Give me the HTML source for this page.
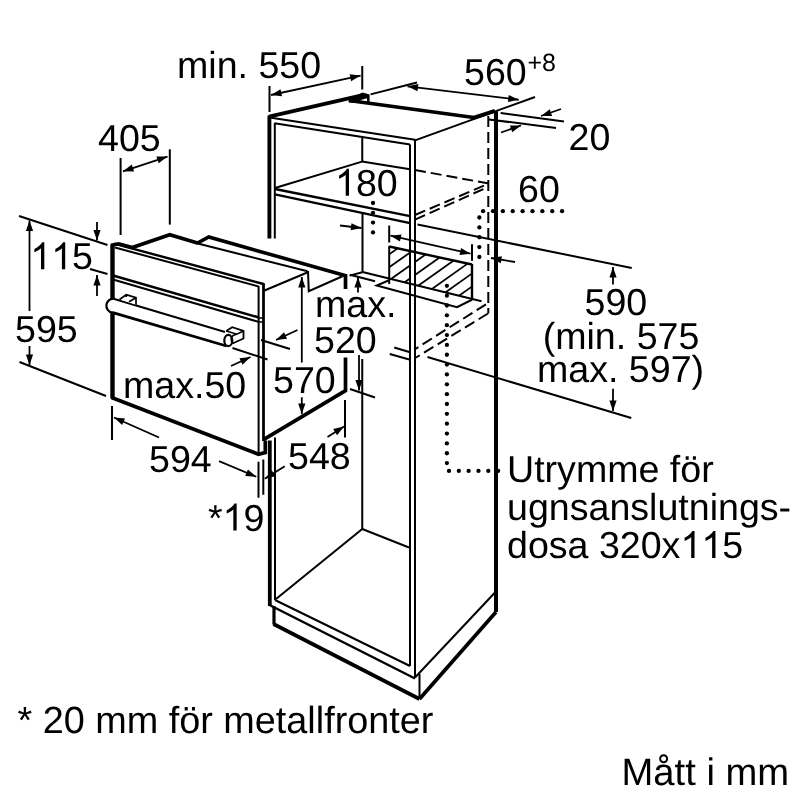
<!DOCTYPE html>
<html><head><meta charset="utf-8"><title>Diagram</title>
<style>
html,body{margin:0;padding:0;background:#fff;}
svg{display:block;filter:grayscale(1);}
svg text{font-family:"Liberation Sans",sans-serif;fill:#000;stroke:none;text-rendering:geometricPrecision;font-kerning:none;white-space:pre;}
</style></head><body>
<svg width="800" height="800" viewBox="0 0 800 800" stroke="#000" fill="none" stroke-linecap="butt">
<rect x="0" y="0" width="800" height="800" fill="#fff" stroke="none"/>
<line x1="269.4" y1="115.6" x2="269.4" y2="238.5" stroke-width="3.9" />
<line x1="274.8" y1="123" x2="274.8" y2="238.5" stroke-width="2.0" />
<line x1="269.8" y1="440.5" x2="269.8" y2="606" stroke-width="3.8" />
<line x1="275" y1="437.5" x2="275" y2="600" stroke-width="2.0" />
<line x1="269" y1="116.6" x2="364" y2="94.9" stroke-width="3.7" />
<polyline points="349,100.5 473.75,117.5" stroke-width="3.7" fill="none" />
<line x1="472.5" y1="118.2" x2="495" y2="110.8" stroke-width="4" />
<path d="M348.75,99.6 L362.5,92.6 L369.6,94.4 L369.6,103.4 L348.75,102.6 Z M358.75,100.6 L367,98.2 L367,101.4 Z" fill="#000" fill-rule="evenodd" stroke="none"/>
<line x1="269.5" y1="117.5" x2="415" y2="139.8" stroke-width="2.0" />
<line x1="274.5" y1="123.3" x2="410" y2="144.4" stroke-width="2.0" />
<line x1="415" y1="140.4" x2="535" y2="97" stroke-width="2.0" />
<line x1="410" y1="144.4" x2="410" y2="666" stroke-width="2.0" />
<line x1="415" y1="139.4" x2="415" y2="678" stroke-width="2.0" />
<line x1="496" y1="111" x2="496" y2="612" stroke-width="4" />
<line x1="362.25" y1="138" x2="362.25" y2="161" stroke-width="2.0" />
<line x1="362" y1="161.6" x2="275" y2="188" stroke-width="2.0" />
<line x1="362" y1="161.6" x2="410" y2="169.2" stroke-width="2.0" />
<line x1="275" y1="189" x2="410" y2="216.2" stroke-width="2.3" />
<line x1="275" y1="194.4" x2="410" y2="223.2" stroke-width="2.3" />
<line x1="362.5" y1="212" x2="362.5" y2="272.5" stroke-width="2.0" />
<line x1="362.5" y1="272" x2="481.5" y2="301.3" stroke-width="2.0" />
<line x1="415" y1="170" x2="488.75" y2="183.5" stroke-width="2.0" stroke-dasharray="11 5"/>
<line x1="415" y1="215" x2="485.5" y2="185" stroke-width="2.0" stroke-dasharray="11 5"/>
<line x1="415" y1="219.7" x2="488" y2="187" stroke-width="2.0" stroke-dasharray="11 5"/>
<line x1="488.3" y1="116" x2="488.3" y2="313.5" stroke-width="2.0" stroke-dasharray="11 5"/>
<line x1="486" y1="304.3" x2="415.25" y2="349" stroke-width="2.0" stroke-dasharray="11 5"/>
<line x1="488" y1="313.5" x2="415.25" y2="358" stroke-width="2.0" stroke-dasharray="11 5"/>
<line x1="362.25" y1="359" x2="362.25" y2="529" stroke-width="2.0" />
<line x1="362.25" y1="529" x2="409" y2="547.5" stroke-width="2.0" />
<line x1="362.25" y1="529" x2="276" y2="599" stroke-width="2.0" />
<line x1="275" y1="600" x2="410" y2="666" stroke-width="2.0" />
<line x1="269.5" y1="605" x2="415" y2="678.5" stroke-width="2.5" />
<line x1="415" y1="677.5" x2="495" y2="592.5" stroke-width="2.0" />
<line x1="274" y1="606" x2="274" y2="624.5" stroke-width="3.2" />
<line x1="273.5" y1="624" x2="419.5" y2="699" stroke-width="3.7" />
<line x1="419.5" y1="674" x2="419.5" y2="699" stroke-width="2.0" />
<line x1="419.5" y1="699" x2="496" y2="612" stroke-width="3.7" />
<line x1="112.5" y1="244.5" x2="112.5" y2="398.5" stroke-width="4.4" />
<polyline points="111.5,397.5 258.5,454.3 265.3,452.5 265.3,440.5" stroke-width="3.7" fill="none" />
<polyline points="263.5,439.6 345.5,390.6 345.5,357.5" stroke-width="3.7" fill="none" />
<line x1="114" y1="243.6" x2="263.5" y2="284" stroke-width="2.4" />
<line x1="115" y1="247.5" x2="258.5" y2="286.5" stroke-width="2.0" />
<line x1="258.6" y1="286" x2="258.6" y2="453" stroke-width="2.0" />
<line x1="263.5" y1="283.2" x2="263.5" y2="441" stroke-width="2.8" />
<line x1="258.6" y1="318" x2="263.5" y2="318" stroke-width="1.5" />
<line x1="258.6" y1="322" x2="263.5" y2="322" stroke-width="1.5" />
<line x1="113" y1="275.5" x2="259" y2="317.5" stroke-width="2.4" />
<line x1="113" y1="279.5" x2="259" y2="322" stroke-width="2.0" />
<polyline points="111,245.25 118.75,243.75 132.25,247.5 169.75,234.75 197.5,243 208.75,237 345,275.5" stroke-width="3.6" fill="none" />
<line x1="345.5" y1="274" x2="345.5" y2="289" stroke-width="3.7" />
<line x1="198.75" y1="243.75" x2="307.5" y2="271.25" stroke-width="2.0" />
<line x1="264.5" y1="290.5" x2="307.25" y2="272.5" stroke-width="2.0" />
<polyline points="308,271 308.75,291.25 342.5,276.25" stroke-width="2.0" fill="none" />
<line x1="350" y1="274.8" x2="375" y2="281.2" stroke-width="2.0" />
<line x1="362.4" y1="272.2" x2="349.5" y2="275.6" stroke-width="2.0" />
<path d="M113.5,299 L225,332 L226.5,346 L112,312.5 A6.3,6.7 0 0 1 113.5,299 Z" fill="#fff" stroke="none"/>
<path d="M112,312.5 A6.3,6.7 0 0 1 113.5,299" stroke-width="2.2" fill="none"/>
<line x1="113.5" y1="298.8" x2="225" y2="332" stroke-width="2.0" />
<line x1="112" y1="312.3" x2="226.5" y2="346" stroke-width="2.8" />
<path d="M119.5,299.5 L126.25,294.75 L136,297.75 L136,304.8 M126.25,294.75 L126.25,297 M129,301.8 L136,297.75" stroke-width="1.7" fill="#fff"/>
<path d="M226.25,331 L232.25,327.25 L243.5,331 L243.5,338.5 L232.5,343.5" stroke-width="1.8" fill="#fff"/>
<path d="M243.5,331 L236.75,334.2 L226.25,331" stroke-width="1.6" fill="none"/>
<ellipse cx="228.3" cy="340.5" rx="4" ry="5.6" fill="#fff" stroke-width="2.2"/>
<path d="M236.75,334.2 C231,335 230,339 232.5,343.5" stroke-width="1.6" fill="none"/>
<line x1="269.5" y1="86" x2="269.5" y2="112" stroke-width="2.0" />
<line x1="362.25" y1="66" x2="362.25" y2="89.5" stroke-width="2.0" />
<line x1="271" y1="95" x2="360.6" y2="75.6" stroke-width="1.8" />
<polygon points="360.60,75.60 351.10,81.34 349.58,74.30" fill="#000" stroke="none"/>
<polygon points="271.00,95.00 280.50,89.26 282.02,96.30" fill="#000" stroke="none"/>
<text x="177" y="77.5" font-size="37.6" >min. 550</text>
<line x1="370.6" y1="94.4" x2="417" y2="82.5" stroke-width="2.0" />
<line x1="407.5" y1="86.3" x2="518.75" y2="99.75" stroke-width="1.8" />
<polygon points="518.75,99.75 507.89,102.06 508.76,94.92" fill="#000" stroke="none"/>
<polygon points="407.50,86.30 418.36,83.99 417.49,91.13" fill="#000" stroke="none"/>
<text x="464" y="85" font-size="37.6" >560</text>
<text x="527.5" y="71.3" font-size="25" >+8</text>
<line x1="500.6" y1="113" x2="564" y2="121.5" stroke-width="2.0" />
<line x1="488.75" y1="119.4" x2="556" y2="128" stroke-width="2.0" />
<line x1="561" y1="109" x2="541" y2="116" stroke-width="1.8" />
<polygon points="541.00,116.00 549.72,109.13 552.10,115.93" fill="#000" stroke="none"/>
<line x1="501" y1="132.5" x2="521" y2="125.5" stroke-width="1.8" />
<polygon points="521.00,125.50 512.28,132.37 509.90,125.57" fill="#000" stroke="none"/>
<text x="568.5" y="149.6" font-size="37.6" >20</text>
<line x1="120.6" y1="158" x2="120.6" y2="235" stroke-width="2.0" />
<line x1="169.8" y1="149.3" x2="169.8" y2="224.6" stroke-width="2.0" />
<line x1="123" y1="171.3" x2="167.5" y2="156.6" stroke-width="1.8" />
<polygon points="167.50,156.60 158.66,163.31 156.40,156.48" fill="#000" stroke="none"/>
<polygon points="123.00,171.30 131.84,164.59 134.10,171.42" fill="#000" stroke="none"/>
<text x="98" y="151" font-size="37.6" >405</text>
<line x1="19" y1="216" x2="107.5" y2="245" stroke-width="2.0" />
<line x1="90" y1="269" x2="107.5" y2="274" stroke-width="2.0" />
<line x1="97" y1="222" x2="97" y2="240.5" stroke-width="1.8" />
<polygon points="97.00,240.50 93.40,230.00 100.60,230.00" fill="#000" stroke="none"/>
<line x1="97" y1="296" x2="97" y2="275" stroke-width="1.8" />
<polygon points="97.00,275.00 100.60,285.50 93.40,285.50" fill="#000" stroke="none"/>
<path d="M763 0H583V1147Q518 1085 412.5 1023T223 930V1104Q374 1175 487 1276T647 1472H763Z" transform="translate(30.30,269.3) scale(0.01836,-0.01836)" fill="#000" stroke="none"/>
<path d="M763 0H583V1147Q518 1085 412.5 1023T223 930V1104Q374 1175 487 1276T647 1472H763Z" transform="translate(51.21,269.3) scale(0.01836,-0.01836)" fill="#000" stroke="none"/>
<text x="72.12" y="269.3" font-size="37.6"  xml:space="preserve">5</text>
<line x1="29.5" y1="311" x2="29.5" y2="220.5" stroke-width="1.8" />
<polygon points="29.50,220.50 33.10,231.00 25.90,231.00" fill="#000" stroke="none"/>
<line x1="29.5" y1="346" x2="29.5" y2="365" stroke-width="1.8" />
<polygon points="29.50,365.00 25.90,354.50 33.10,354.50" fill="#000" stroke="none"/>
<line x1="19.5" y1="362" x2="106" y2="396" stroke-width="2.0" />
<text x="15" y="342" font-size="37.6" >595</text>
<line x1="112" y1="406" x2="112" y2="440" stroke-width="2.0" />
<line x1="159" y1="437.5" x2="114" y2="417.5" stroke-width="1.8" />
<polygon points="114.00,417.50 125.06,418.47 122.13,425.05" fill="#000" stroke="none"/>
<line x1="219" y1="461.2" x2="256.25" y2="476.75" stroke-width="1.8" />
<polygon points="256.25,476.75 245.17,476.03 247.95,469.38" fill="#000" stroke="none"/>
<text x="149" y="472" font-size="37.6" >594</text>
<line x1="258.5" y1="461.75" x2="258.5" y2="497.75" stroke-width="2.0" />
<line x1="263.3" y1="459.5" x2="263.3" y2="494.75" stroke-width="2.0" />
<text x="208.00" y="530.5" font-size="37.6"  xml:space="preserve">*</text>
<path d="M763 0H583V1147Q518 1085 412.5 1023T223 930V1104Q374 1175 487 1276T647 1472H763Z" transform="translate(222.63,530.5) scale(0.01836,-0.01836)" fill="#000" stroke="none"/>
<text x="243.54" y="530.5" font-size="37.6"  xml:space="preserve">9</text>
<line x1="284.75" y1="466.25" x2="264.8" y2="478.8" stroke-width="1.8" />
<polygon points="264.80,478.80 271.77,470.16 275.60,476.26" fill="#000" stroke="none"/>
<line x1="345" y1="400" x2="345" y2="437.5" stroke-width="2.0" />
<line x1="327.5" y1="437" x2="344" y2="426.5" stroke-width="1.8" />
<polygon points="344.00,426.50 337.07,435.17 333.21,429.10" fill="#000" stroke="none"/>
<text x="288" y="469" font-size="37.6" >548</text>
<line x1="301.8" y1="362.5" x2="301.8" y2="277" stroke-width="1.8" />
<polygon points="301.80,277.00 305.40,287.50 298.20,287.50" fill="#000" stroke="none"/>
<line x1="301.8" y1="397.25" x2="301.8" y2="414" stroke-width="1.8" />
<polygon points="301.80,414.00 298.20,403.50 305.40,403.50" fill="#000" stroke="none"/>
<text x="273" y="392.8" font-size="37.6" >570</text>
<line x1="358" y1="292.5" x2="358" y2="277" stroke-width="1.8" />
<polygon points="358.00,277.00 361.60,287.50 354.40,287.50" fill="#000" stroke="none"/>
<line x1="359" y1="355" x2="359" y2="390.5" stroke-width="1.8" />
<polygon points="359.00,390.50 355.40,380.00 362.60,380.00" fill="#000" stroke="none"/>
<line x1="350" y1="389" x2="375" y2="397.5" stroke-width="2.0" />
<text x="315" y="317" font-size="37.6" >max.</text>
<text x="314" y="352.5" font-size="37.6" >520</text>
<line x1="232.5" y1="348" x2="267.5" y2="359.5" stroke-width="2.0" />
<line x1="231" y1="366" x2="250.5" y2="357" stroke-width="1.8" />
<polygon points="250.50,357.00 242.48,364.67 239.46,358.13" fill="#000" stroke="none"/>
<line x1="261" y1="340" x2="290" y2="349" stroke-width="2.0" />
<line x1="297.5" y1="330" x2="276" y2="340" stroke-width="1.8" />
<polygon points="276.00,340.00 284.00,332.31 287.04,338.84" fill="#000" stroke="none"/>
<text x="123" y="398" font-size="37.6" >max.50</text>
<line x1="340" y1="225.5" x2="361.5" y2="228" stroke-width="1.8" />
<polygon points="361.50,228.00 350.65,230.36 351.49,223.21" fill="#000" stroke="none"/>
<line x1="389.2" y1="225.6" x2="389.2" y2="242.5" stroke-width="2.0" />
<line x1="389.2" y1="246" x2="389.2" y2="284" stroke-width="2.0" />
<line x1="470.5" y1="253.7" x2="390.5" y2="235.7" stroke-width="1.8" />
<polygon points="390.50,235.70 401.53,234.49 399.95,241.52" fill="#000" stroke="none"/>
<polygon points="470.50,253.70 459.47,254.91 461.05,247.88" fill="#000" stroke="none"/>
<line x1="472" y1="244.25" x2="472" y2="260.75" stroke-width="2.0" />
<path d="M763 0H583V1147Q518 1085 412.5 1023T223 930V1104Q374 1175 487 1276T647 1472H763Z" transform="translate(335.00,195.8) scale(0.01836,-0.01836)" fill="#000" stroke="none"/>
<text x="355.91" y="195.8" font-size="37.6"  xml:space="preserve">80</text>
<circle cx="373.00" cy="203.00" r="2.15" fill="#000" stroke="none"/>
<circle cx="373.00" cy="212.80" r="2.15" fill="#000" stroke="none"/>
<circle cx="373.00" cy="222.60" r="2.15" fill="#000" stroke="none"/>
<circle cx="373.00" cy="232.40" r="2.15" fill="#000" stroke="none"/>
<defs><clipPath id="hb"><path d="M389.2,246.5 L409,250.8 L409,283.3 L389.2,278.3 Z M415.8,252.3 L472,264.5 L472,299 L415.8,285 Z"/></clipPath></defs>
<g clip-path="url(#hb)" stroke-width="1.8"><line x1="263.5" y1="317.6" x2="383.5" y2="232.4"/><line x1="281.8" y1="317.6" x2="401.8" y2="232.4"/><line x1="300.1" y1="317.6" x2="420.1" y2="232.4"/><line x1="318.4" y1="317.6" x2="438.4" y2="232.4"/><line x1="336.7" y1="317.6" x2="456.7" y2="232.4"/><line x1="355.0" y1="317.6" x2="475.0" y2="232.4"/><line x1="373.3" y1="317.6" x2="493.3" y2="232.4"/><line x1="391.6" y1="317.6" x2="511.6" y2="232.4"/><line x1="409.9" y1="317.6" x2="529.9" y2="232.4"/><line x1="428.2" y1="317.6" x2="548.2" y2="232.4"/><line x1="446.5" y1="317.6" x2="566.5" y2="232.4"/><line x1="464.8" y1="317.6" x2="584.8" y2="232.4"/><line x1="483.1" y1="317.6" x2="603.1" y2="232.4"/></g>
<line x1="389.2" y1="246.5" x2="472" y2="264.5" stroke-width="2.4" />
<line x1="472" y1="264" x2="472" y2="299.5" stroke-width="2.4" />
<polyline points="389,280.25 376.75,285.5 457,307.25 472,299.75" stroke-width="2.0" fill="none" />
<circle cx="483.10" cy="211.15" r="2.15" fill="#000" stroke="none"/>
<circle cx="492.98" cy="211.15" r="2.15" fill="#000" stroke="none"/>
<circle cx="502.85" cy="211.15" r="2.15" fill="#000" stroke="none"/>
<circle cx="512.73" cy="211.15" r="2.15" fill="#000" stroke="none"/>
<circle cx="522.60" cy="211.15" r="2.15" fill="#000" stroke="none"/>
<circle cx="532.48" cy="211.15" r="2.15" fill="#000" stroke="none"/>
<circle cx="542.35" cy="211.15" r="2.15" fill="#000" stroke="none"/>
<circle cx="552.23" cy="211.15" r="2.15" fill="#000" stroke="none"/>
<circle cx="562.10" cy="211.15" r="2.15" fill="#000" stroke="none"/>
<circle cx="479.35" cy="217.50" r="2.15" fill="#000" stroke="none"/>
<circle cx="479.35" cy="227.38" r="2.15" fill="#000" stroke="none"/>
<circle cx="479.35" cy="237.25" r="2.15" fill="#000" stroke="none"/>
<circle cx="479.35" cy="247.12" r="2.15" fill="#000" stroke="none"/>
<circle cx="479.35" cy="257.00" r="2.15" fill="#000" stroke="none"/>
<line x1="515" y1="262" x2="491" y2="258" stroke-width="1.8" />
<polygon points="491.00,258.00 501.95,256.18 500.77,263.28" fill="#000" stroke="none"/>
<text x="518" y="201.5" font-size="37.6" >60</text>
<line x1="417.5" y1="224.5" x2="631.75" y2="268" stroke-width="2.0" />
<line x1="427.5" y1="357" x2="631.25" y2="418" stroke-width="2.0" />
<line x1="613" y1="284.5" x2="613" y2="267" stroke-width="1.8" />
<polygon points="613.00,267.00 616.60,277.50 609.40,277.50" fill="#000" stroke="none"/>
<line x1="613" y1="388.75" x2="613" y2="411" stroke-width="1.8" />
<polygon points="613.00,411.00 609.40,400.50 616.60,400.50" fill="#000" stroke="none"/>
<text x="584.5" y="315" font-size="37.6" >590</text>
<text x="542.7" y="348.75" font-size="37.6" >(min. 575</text>
<text x="537" y="381.5" font-size="37.6" >max. 597)</text>
<line x1="394.25" y1="347.5" x2="409.25" y2="352" stroke-width="2.0" />
<line x1="389.75" y1="354" x2="409.25" y2="359.5" stroke-width="2.0" />
<circle cx="446.90" cy="285.80" r="2.15" fill="#000" stroke="none"/>
<circle cx="446.90" cy="295.65" r="2.15" fill="#000" stroke="none"/>
<circle cx="446.90" cy="305.50" r="2.15" fill="#000" stroke="none"/>
<circle cx="446.90" cy="315.35" r="2.15" fill="#000" stroke="none"/>
<circle cx="446.90" cy="325.20" r="2.15" fill="#000" stroke="none"/>
<circle cx="446.90" cy="335.05" r="2.15" fill="#000" stroke="none"/>
<circle cx="446.90" cy="344.90" r="2.15" fill="#000" stroke="none"/>
<circle cx="446.90" cy="354.75" r="2.15" fill="#000" stroke="none"/>
<circle cx="446.90" cy="364.60" r="2.15" fill="#000" stroke="none"/>
<circle cx="446.90" cy="374.45" r="2.15" fill="#000" stroke="none"/>
<circle cx="446.90" cy="384.30" r="2.15" fill="#000" stroke="none"/>
<circle cx="446.90" cy="394.15" r="2.15" fill="#000" stroke="none"/>
<circle cx="446.90" cy="404.00" r="2.15" fill="#000" stroke="none"/>
<circle cx="446.90" cy="413.85" r="2.15" fill="#000" stroke="none"/>
<circle cx="446.90" cy="423.70" r="2.15" fill="#000" stroke="none"/>
<circle cx="446.90" cy="433.55" r="2.15" fill="#000" stroke="none"/>
<circle cx="446.90" cy="443.40" r="2.15" fill="#000" stroke="none"/>
<circle cx="446.90" cy="453.25" r="2.15" fill="#000" stroke="none"/>
<circle cx="446.90" cy="463.10" r="2.15" fill="#000" stroke="none"/>
<circle cx="449.00" cy="470.90" r="2.15" fill="#000" stroke="none"/>
<circle cx="458.82" cy="470.90" r="2.15" fill="#000" stroke="none"/>
<circle cx="468.64" cy="470.90" r="2.15" fill="#000" stroke="none"/>
<circle cx="478.46" cy="470.90" r="2.15" fill="#000" stroke="none"/>
<circle cx="488.28" cy="470.90" r="2.15" fill="#000" stroke="none"/>
<circle cx="498.10" cy="470.90" r="2.15" fill="#000" stroke="none"/>
<text x="507" y="482" font-size="37.6" >Utrymme för</text>
<text x="507" y="520" font-size="37.6" >ugnsanslutnings-</text>
<text x="507.00" y="558" font-size="37.6"  xml:space="preserve">dosa 320x</text>
<path d="M763 0H583V1147Q518 1085 412.5 1023T223 930V1104Q374 1175 487 1276T647 1472H763Z" transform="translate(680.51,558) scale(0.01836,-0.01836)" fill="#000" stroke="none"/>
<path d="M763 0H583V1147Q518 1085 412.5 1023T223 930V1104Q374 1175 487 1276T647 1472H763Z" transform="translate(701.43,558) scale(0.01836,-0.01836)" fill="#000" stroke="none"/>
<text x="722.34" y="558" font-size="37.6"  xml:space="preserve">5</text>
<text x="17.5" y="733" font-size="37.8" >* 20 mm för metallfronter</text>
<text x="621.5" y="785" font-size="38.2" >Mått i mm</text>
</svg>
</body></html>
